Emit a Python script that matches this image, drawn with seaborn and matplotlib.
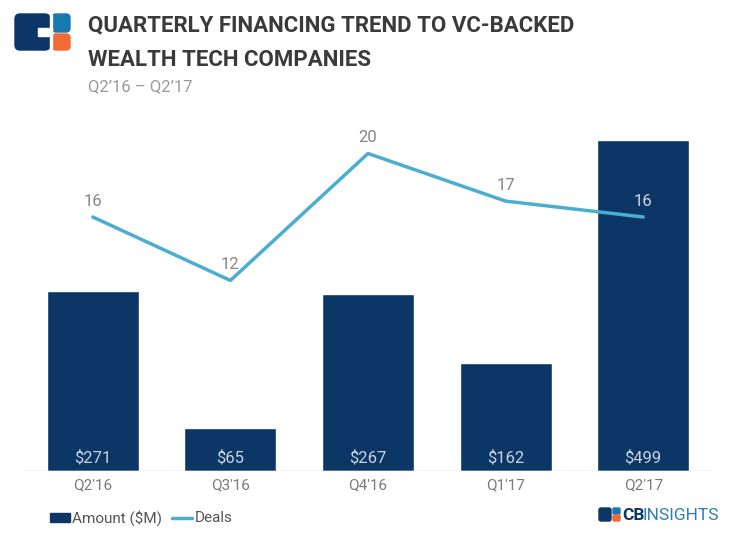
import matplotlib
matplotlib.use("Agg")
import matplotlib.pyplot as plt
import seaborn as sns
import pandas as pd
from matplotlib.patches import FancyBboxPatch, Rectangle
from matplotlib.lines import Line2D

quarters = ["Q2'16", "Q3'16", "Q4'16", "Q1'17", "Q2'17"]
amounts = [271, 65, 267, 162, 499]
deals = [16, 12, 20, 17, 16]

NAVY = "#0C3666"
LINE = "#4BAED0"
GREY = "#7a7a7a"

sns.set_theme(style="white")
plt.rcParams['font.family'] = ['Roboto', 'DejaVu Sans']

df = pd.DataFrame({"quarter": quarters, "amount": amounts, "deals": deals})

fig = plt.figure(figsize=(7.4, 5.38), dpi=100)
ax = fig.add_axes([24/740, 67/538, 688/740, 371/538])

sns.barplot(data=df, x="quarter", y="amount", color=NAVY, width=0.67,
            saturation=1, ax=ax)
ax.set_xlim(-0.5, 4.5)
ax.set_ylim(0, 559)
for i, v in enumerate(amounts):
    ax.text(i, 9, f"${v}", ha="center", va="bottom", color="#c9d3df", fontsize=12)

ax2 = ax.twinx()
sns.lineplot(data=df, x="quarter", y="deals", color=LINE, linewidth=2.5, ax=ax2,
             sort=False)
ax2.set_ylim(0, 23.37)
for i, v in enumerate(deals):
    col = "#d0d8e2" if i == 4 else "#858585"
    ax2.annotate(str(v), (i, v), xytext=(0, 6), textcoords="offset points",
                 ha="center", va="bottom", color=col, fontsize=12)

for a in (ax, ax2):
    a.set_xlabel("")
    a.set_ylabel("")
    a.set_yticks([])
    for s in ["top", "left", "right", "bottom"]:
        a.spines[s].set_visible(False)
ax.axhline(0, color="#d8d8d8", linewidth=1)
ax.tick_params(axis="x", colors=GREY, labelsize=11, length=0, pad=5)

# Title
fig.text(88/740, 1 - 25/538, "QUARTERLY FINANCING TREND TO VC-BACKED",
         fontsize=16, fontweight="bold", color="#3a3a3a", va="center", ha="left")
fig.text(88/740, 1 - 60/538, "WEALTH TECH COMPANIES",
         fontsize=16, fontweight="bold", color="#3a3a3a", va="center", ha="left")
fig.text(88/740, 1 - 87/538, "Q2\u201916 \u2013 Q2\u201917",
         fontsize=12, color="#9a9a9a", va="center", ha="left")

# Logo top-left
def fbox(x, y, w, h, color, r=4):
    fig.patches.append(FancyBboxPatch((x/740, 1 - (y + h)/538), w/740, h/538,
                                      boxstyle=f"round,pad=0,rounding_size={r/740}",
                                      transform=fig.transFigure, color=color,
                                      mutation_aspect=740/538))
fbox(15, 14, 35, 36, NAVY, 5)
fbox(52, 14, 18, 18, "#1878B0", 4)
fbox(52, 34, 18, 16, "#F26A35", 4)
fig.patches.append(Rectangle((38/740, 1 - 36/538), 14/740, 8/538,
                             transform=fig.transFigure, color="white"))
fig.patches.append(Rectangle((50/740, 1 - 50/538), 2/740, 36/538,
                             transform=fig.transFigure, color="white"))

# Legend
fig.patches.append(Rectangle((50/740, 1 - 522/538), 20/740, 9/538,
                             transform=fig.transFigure, color=NAVY))
fig.text(72/740, 1 - 518/538, "Amount ($M)", fontsize=11, color="#555555",
         va="center", ha="left")
fig.lines.append(Line2D([172/740, 192/740], [1 - 518/538, 1 - 518/538],
                        transform=fig.transFigure, color=LINE, linewidth=2.5))
fig.text(195/740, 1 - 518/538, "Deals", fontsize=11, color="#555555",
         va="center", ha="left")

# CB Insights logo bottom-right
fbox(599, 508, 12, 13, NAVY, 2)
fbox(613, 508, 7, 6, "#1878B0", 1)
fbox(613, 515, 7, 6, "#F26A35", 1)
fig.text(622/740, 1 - 515/538, "CB", fontsize=12.5, fontweight="bold", color=NAVY,
         va="center", ha="left")
fig.text(643/740, 1 - 515/538, "INSIGHTS", fontsize=12.5, color="#2F7FB0",
         va="center", ha="left")

fig.savefig("out.png", dpi=100, facecolor="white")
